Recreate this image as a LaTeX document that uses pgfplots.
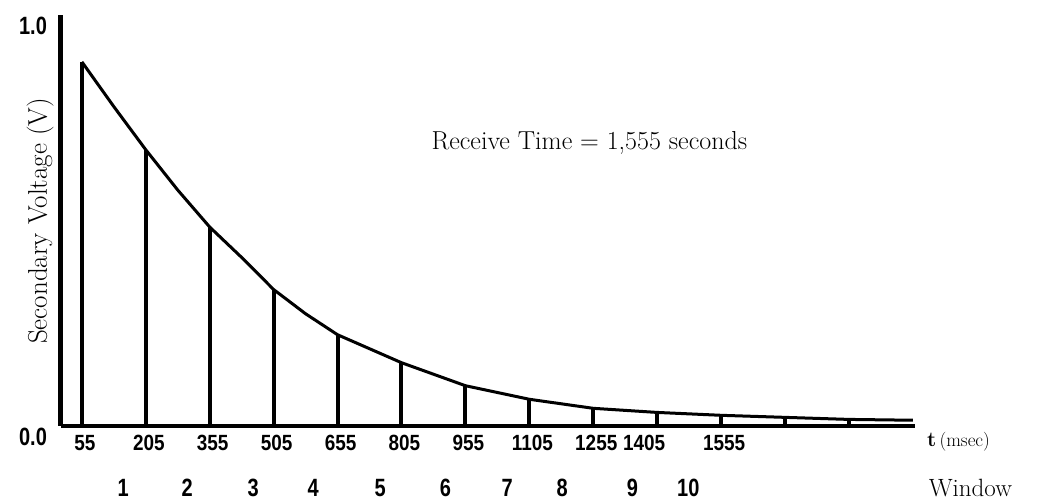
\documentclass[border=0pt]{standalone}
\usepackage{graphicx}
\usepackage{pgfplots}
\pgfplotsset{compat=1.18}
\usepackage{fontspec}
\newfontfamily\numfont{Liberation Sans}
\newcommand{\tl}[1]{\scalebox{0.86}[1]{\numfont\bfseries\fontsize{22}{22}\selectfont #1}}
\newcommand{\wl}[1]{\scalebox{0.8}[1]{\numfont\bfseries\fontsize{25}{25}\selectfont #1}}
\begin{document}
\begin{tikzpicture}
\useasboundingbox (0,0) rectangle (1037pt,502pt);
\begin{axis}[
  at={(61pt,76pt)}, anchor=south west,
  scale only axis, width=854pt, height=411pt,
  xmin=6, xmax=2010, ymin=0, ymax=1,
  axis x line=bottom, axis y line=left,
  x axis line style={-, line width=3.2pt},
  y axis line style={-, line width=5pt},
  xtick={55,205,355,505,655,805,955,1105,1255,1555},
  xticklabels={\tl{55},\tl{205},\tl{355},\tl{505},\tl{655},\tl{805},\tl{955},\tl{1105},\tl{1255},\tl{1555}},
  extra x ticks={1405}, extra x tick labels={\tl{1405}},
  extra x tick style={xticklabel style={xshift=-16pt}},
  xticklabel style={anchor=center, yshift=-17pt, xshift=3pt},
  ytick={0,1}, yticklabels={\wl{0.0},\wl{1.0}},
  yticklabel style={anchor=center, xshift=-28pt, yshift=-11pt},
  major tick length=0pt,
  clip=false,
]
\addplot[black, line width=3pt, line join=round] coordinates {
  (55,0.886) (130,0.777) (205,0.672) (280,0.574) (355,0.484) (430,0.410)
  (505,0.332) (580,0.273) (655,0.222) (805,0.154)
  (955,0.098) (1105,0.065) (1255,0.043) (1405,0.033) (1555,0.026)
  (1705,0.021) (1855,0.016) (2005,0.014)};
\addplot[black, ycomb, line width=4pt] coordinates {
  (55,0.886) (205,0.672) (355,0.484) (505,0.332) (655,0.222) (805,0.154)
  (955,0.098) (1105,0.065) (1255,0.043) (1405,0.033) (1555,0.026)
  (1705,0.021) (1855,0.016)};
\node[rotate=90, font=\fontsize{27}{27}\selectfont] at (axis cs:-43,0.499) {Secondary Voltage (V)};
\node[font=\fontsize{26}{26}\selectfont] at (axis cs:1246,0.689) {Receive Time = 1,555 seconds};
\node at (axis cs:2112,-0.039) {\textbf{\fontsize{21}{21}\selectfont t} {\fontsize{19}{19}\selectfont (msec)}};
\node[font=\fontsize{25}{25}\selectfont] at (axis cs:2140,-0.150) {Window};
\node at (axis cs:152,-0.150) {\wl{1}};
\node at (axis cs:302,-0.150) {\wl{2}};
\node at (axis cs:457,-0.150) {\wl{3}};
\node at (axis cs:598,-0.150) {\wl{4}};
\node at (axis cs:755,-0.150) {\wl{5}};
\node at (axis cs:908,-0.150) {\wl{6}};
\node at (axis cs:1053,-0.150) {\wl{7}};
\node at (axis cs:1182,-0.150) {\wl{8}};
\node at (axis cs:1347,-0.150) {\wl{9}};
\node at (axis cs:1478,-0.150) {\wl{10}};
\end{axis}
\end{tikzpicture}
\end{document}
